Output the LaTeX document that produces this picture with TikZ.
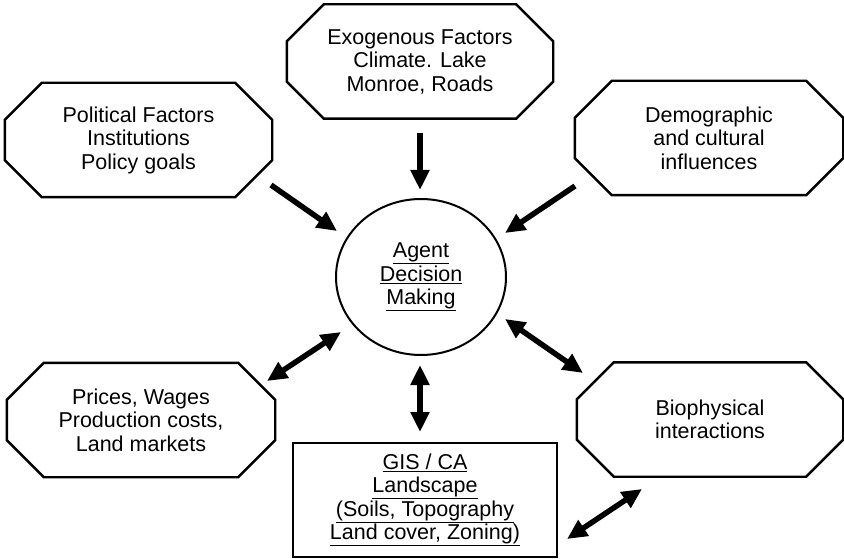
\documentclass[tikz,border=0pt]{standalone}
\usepackage{fontspec}
\setmainfont{Liberation Sans}
\usetikzlibrary{arrows.meta,shapes.geometric}

\tikzset{
  factor/.style={rectangle, minimum width=#1, minimum height=114pt, inner sep=0pt, align=center},
  flow/.style={line width=5.5pt, -{Triangle[length=20pt,width=18pt]}},
  twoway/.style={line width=5.5pt, {Triangle[length=20pt,width=18pt]}-{Triangle[length=20pt,width=18pt]}}
}
% chamfered outline round a factor node
\newcommand{\octoutline}[1]{%
  \draw[line width=2.4pt] ([xshift=37pt]#1.north west) -- ([xshift=-37pt]#1.north east)
    -- ([yshift=-37pt]#1.north east) -- ([yshift=37pt]#1.south east)
    -- ([xshift=-37pt]#1.south east) -- ([xshift=37pt]#1.south west)
    -- ([yshift=37pt]#1.south west) -- ([yshift=-37pt]#1.north west) -- cycle;}

\begin{document}
\begin{tikzpicture}[x=1pt, y=-1pt, font=\fontsize{21.5}{23.5}\selectfont]
    \useasboundingbox (0,0) rectangle (844,559);
    %% outer factors
    \node[factor=266pt] (exo) at (420,61.5) {Exogenous Factors\\Climate. Lake\\Monroe, Roads};
    \node[factor=267pt] (pol) at (138.5,140) {Political Factors\\Institutions\\Policy goals};
    \node[factor=268pt] (demo) at (709,138) {Demographic\\and cultural\\influences};
    \node[factor=268pt] (price) at (141,420) {Prices, Wages\\Production costs,\\Land markets};
    \node[factor=266pt] (bio) at (710,419.5) {Biophysical\\interactions};
    \octoutline{exo}
    \octoutline{pol}
    \octoutline{demo}
    \octoutline{price}
    \octoutline{bio}
    %% agent and landscape
    \node[ellipse, draw, line width=2pt, minimum width=170pt, minimum height=156pt, align=center] (agent) at (421,277) {\underline{Agent}\\\underline{Decision}\\\underline{Making}};
    \node[rectangle, draw, line width=2.4pt, minimum width=264pt, minimum height=114pt, align=center] (gis) at (425,500) {\underline{GIS / CA}\\\underline{Landscape}\\\underline{(Soils, Topography}\\\underline{Land cover, Zoning)}};

    %% arrow ends
    \coordinate (exo-out) at (420,133);
    \coordinate (agent-n) at (420,190);
    \coordinate (pol-out) at (271,185);
    \coordinate (agent-nw) at (337,231);
    \coordinate (demo-out) at (575,186);
    \coordinate (agent-ne) at (505,233);
    \coordinate (price-in) at (267,381);
    \coordinate (agent-sw) at (341,332);
    \coordinate (bio-in) at (583,373);
    \coordinate (agent-se) at (505,319);
    \coordinate (gis-n) at (420,432);
    \coordinate (agent-s) at (420,365);
    \coordinate (gis-e) at (567,539);
    \coordinate (bio-sw) at (642,489);

    \draw[flow] (exo-out) -- (agent-n);
    \draw[flow] (pol-out) -- (agent-nw);
    \draw[flow] (demo-out) -- (agent-ne);
    \draw[twoway] (price-in) -- (agent-sw);
    \draw[twoway] (agent-se) -- (bio-in);
    \draw[twoway] (gis-n) -- (agent-s);
    \draw[twoway] (gis-e) -- (bio-sw);
\end{tikzpicture}
\end{document}
